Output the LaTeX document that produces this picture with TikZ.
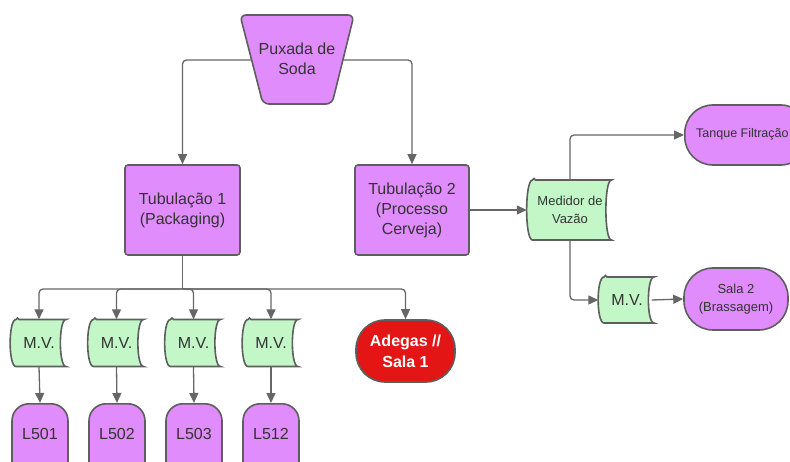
\documentclass[tikz,border=0pt]{standalone}
\usepackage{fontspec}
\setmainfont{Liberation Sans}
\usetikzlibrary{arrows.meta}
\definecolor{purp}{HTML}{E08CFC}
\definecolor{grn}{HTML}{C3F7C8}
\definecolor{redf}{HTML}{E31515}
\definecolor{edge}{HTML}{5E5E5E}
\definecolor{txt}{HTML}{333333}
\definecolor{wire}{HTML}{666666}
\tikzset{
  shp/.style={draw=edge, line width=1.6pt},
  lbl/.style={text=txt, align=center, font=\fontsize{16}{19}\selectfont, inner sep=0pt},
  small/.style={text=txt, align=center, font=\fontsize{13}{15.5}\selectfont, inner sep=0pt},
  wirestyle/.style={draw=wire, line width=1.3pt, rounded corners=4pt, -{Triangle[length=10pt,width=9pt]}},
  plainwire/.style={draw=wire, line width=1.3pt, rounded corners=4pt},
}
% stored data shape: name, cx, cy, w, h, style, text
\newcommand\sdbox[7]{%
  \pgfmathsetmacro\sdL{#2-#4/2}\pgfmathsetmacro\sdR{#2+#4/2}%
  \pgfmathsetmacro\sdT{#3-#5/2}\pgfmathsetmacro\sdB{#3+#5/2}%
  \draw[shp, fill=grn, rounded corners=1.5pt] (\sdL+7,\sdT) -- (\sdR,\sdT) .. controls (\sdR-9,\sdT) and (\sdR-9,\sdB) .. (\sdR,\sdB) -- (\sdL+7,\sdB) .. controls (\sdL-2.3,\sdB) and (\sdL-2.3,\sdT) .. (\sdL+7,\sdT) -- cycle;
  \node[#6, minimum width=#4, minimum height=#5] (#1) at (#2,#3) {#7};%
}
\begin{document}
\begin{tikzpicture}[x=1pt,y=-1pt]
\useasboundingbox (0,0) rectangle (790,462);
\begin{scope}
\clip (0,0) rectangle (790,462);
% Puxada de Soda
\draw[shp, fill=purp, rounded corners=6pt] (240,15) -- (354,15) -- (332,104) -- (263,104) -- cycle;
\node[lbl] (soda) at (297,59) {Puxada de\\[1pt]Soda};
\coordinate (sodaL) at (251.5,60);
\coordinate (sodaR) at (343.5,60);
% Tubulacoes
\node[lbl, shp, fill=purp, rounded corners=3pt, minimum width=115, minimum height=90] (tub1) at (182.5,210) {Tubulação 1\\[1pt](Packaging)};
\node[lbl, shp, fill=purp, rounded corners=3pt, minimum width=114, minimum height=90] (tub2) at (412,210) {Tubulação 2\\[1pt](Processo\\[1pt]Cerveja)};
% Medidor
\sdbox{med}{570}{210}{86}{60}{small}{Medidor de\\[2pt]Vazão}
% Tanque Filtracao
\node[small, shp, fill=purp, rounded corners=28pt, minimum width=124, minimum height=60, anchor=west] (tanque) at (684,135) {};
\node[small, anchor=west, font=\fontsize{12.5}{15}\selectfont] (tanquetxt) at (696,134) {Tanque Filtração};
% MV right
\sdbox{mvr}{627}{300}{57}{46}{lbl}{M.V.}
% Sala 2
\node[small, shp, fill=purp, rounded corners=29pt, minimum width=104, minimum height=62] (sala2) at (736,299) {Sala 2\\[3pt](Brassagem)};
% bottom row
\sdbox{mv1}{39}{343}{57}{47}{lbl}{M.V.}
\sdbox{mv2}{116.5}{343}{57}{47}{lbl}{M.V.}
\sdbox{mv3}{193.5}{343}{57}{47}{lbl}{M.V.}
\sdbox{mv4}{271}{343}{57}{47}{lbl}{M.V.}
\node[lbl, shp, fill=redf, text=white, font=\fontsize{16}{19}\selectfont\bfseries, rounded corners=29pt, minimum width=99, minimum height=62] (adegas) at (405.5,351) {Adegas //\\[2pt]Sala 1};
\foreach \n/\x in {501/40,502/117,503/194,512/271}{
  \node[lbl, shp, fill=purp, rounded corners=17pt, minimum width=56, minimum height=80, anchor=north] (L\n) at (\x,403) {};
  \node[lbl] (L\n t) at (\x,434) {L\n};
}
% connectors
\draw[wirestyle] (sodaL) -| (tub1.north);
\draw[wirestyle] (sodaR) -| (tub2.north);
\draw[wirestyle] (tub2.east) -- (med.west);
\draw[wirestyle] (med.north) |- (tanque.west);
\draw[wirestyle] (med.south) |- (mvr.west);
\draw[wirestyle] ([xshift=-4pt]mvr.east) -- (sala2.west);
\coordinate (junc) at (182.5,289);
\draw[plainwire] (tub1.south) -- (junc);
\draw[wirestyle] (junc) -| (mv1.north);
\draw[wirestyle] (junc) -| (mv2.north);
\draw[wirestyle] (junc) -| (mv3.north);
\draw[wirestyle] (junc) -| (mv4.north);
\draw[wirestyle] (junc) -| (adegas.north);
\foreach \i/\n in {1/501,2/502,3/503,4/512}{
  \draw[wirestyle] (mv\i.south) -- (L\n.north);
}
\end{scope}
\end{tikzpicture}
\end{document}
